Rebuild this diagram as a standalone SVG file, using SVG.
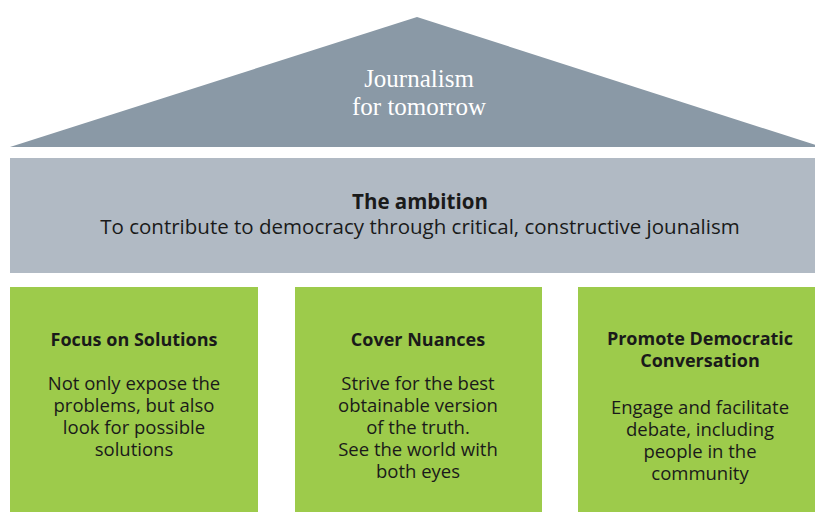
<svg xmlns="http://www.w3.org/2000/svg" width="815" height="512" viewBox="0 0 815 512">
  <style>
    .roof { fill: #8a99a6; }
    .band { fill: #b1bac4; }
    .pillar { fill: #9dcb4b; }
    .roof-text { font-family: "Liberation Serif", "DejaVu Serif", serif; font-size: 25px; fill: #ffffff; text-anchor: middle; }
    .band-title { font-family: "Open Sans", "Noto Sans", sans-serif; font-size: 20.5px; font-weight: bold; fill: #1a1a1a; text-anchor: middle; }
    .band-text { font-family: "Open Sans", "Noto Sans", sans-serif; font-size: 20.5px; fill: #1a1a1a; text-anchor: middle; }
    .p-title { font-family: "Open Sans", "Noto Sans", sans-serif; font-size: 18px; font-weight: bold; fill: #1a1a1a; text-anchor: middle; }
    .p-text { font-family: "Open Sans", "Noto Sans", sans-serif; font-size: 18.5px; fill: #1a1a1a; text-anchor: middle; }
  </style>

  <rect width="815" height="512" fill="#ffffff"/>

  <g id="roof">
    <polygon class="roof" points="10,147 417,17 822,147"/>
    <text class="roof-text" x="419" y="87">Journalism</text>
    <text class="roof-text" x="419" y="115">for tomorrow</text>
  </g>

  <g id="ambition">
    <rect class="band" x="10" y="158" width="805" height="115"/>
    <text class="band-title" x="420" y="209">The ambition</text>
    <text class="band-text" x="420" y="234">To contribute to democracy through critical, constructive jounalism</text>
  </g>

  <g id="focus-on-solutions">
    <rect class="pillar" x="10" y="287" width="248" height="225"/>
    <text class="p-title" x="134" y="346">Focus on Solutions</text>
    <text class="p-text" x="134" y="390">Not only expose the</text>
    <text class="p-text" x="134" y="412">problems, but also</text>
    <text class="p-text" x="134" y="434">look for possible</text>
    <text class="p-text" x="134" y="456">solutions</text>
  </g>

  <g id="cover-nuances">
    <rect class="pillar" x="295" y="287" width="247" height="225"/>
    <text class="p-title" x="418" y="346">Cover Nuances</text>
    <text class="p-text" x="418" y="390">Strive for the best</text>
    <text class="p-text" x="418" y="412">obtainable version</text>
    <text class="p-text" x="418" y="434">of the truth.</text>
    <text class="p-text" x="418" y="456">See the world with</text>
    <text class="p-text" x="418" y="478">both eyes</text>
  </g>

  <g id="promote-democratic-conversation">
    <rect class="pillar" x="578" y="287" width="237" height="225"/>
    <text class="p-title" x="700" y="345">Promote Democratic</text>
    <text class="p-title" x="700" y="367">Conversation</text>
    <text class="p-text" x="700" y="414">Engage and facilitate</text>
    <text class="p-text" x="700" y="436">debate, including</text>
    <text class="p-text" x="700" y="458">people in the</text>
    <text class="p-text" x="700" y="480">community</text>
  </g>

  <g id="connectors"></g>
</svg>
